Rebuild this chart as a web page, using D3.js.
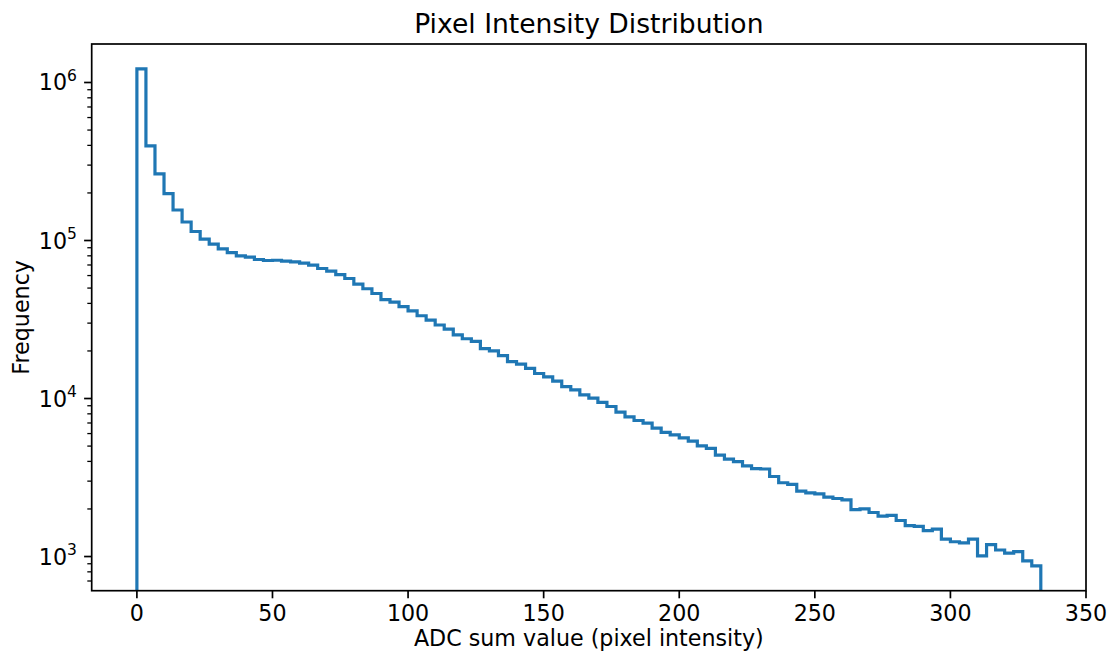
<!DOCTYPE html>
<html>
<head>
<meta charset="utf-8">
<script src="https://cdn.jsdelivr.net/npm/d3@7"></script>
<style>
  body { margin: 0; background: #fff; }
  svg text { font-family: "DejaVu Sans", sans-serif; fill: #000; }
</style>
</head>
<body>
<div id="chart"></div>
<script>
// histogram of ADC sum values, 100 bins from 0 to 333.33
const binStart = 0;
const binWidth = 10 / 3;
const counts = [
  1220000, 397000, 264000, 198000, 156000, 131000, 114000, 102000, 94900, 88500,
  83900, 80000, 78500, 75800, 74700, 75000, 74100, 73300, 71900, 69800,
  66500, 64000, 60900, 57500, 53000, 49500, 46200, 42300, 40800, 38200,
  35900, 33400, 31300, 29200, 27500, 25300, 23900, 23000, 20700, 20000,
  18700, 17100, 16500, 15500, 14400, 13700, 12900, 11900, 11350, 10550,
  10060, 9440, 8900, 8200, 7660, 7260, 6980, 6500, 6100, 5890,
  5640, 5370, 5020, 4830, 4380, 4130, 3990, 3750, 3600, 3580,
  3210, 2930, 2860, 2590, 2530, 2490, 2380, 2330, 2280, 1980,
  2000, 1900, 1800, 1820, 1690, 1570, 1550, 1460, 1490, 1290,
  1240, 1220, 1290, 1010, 1190, 1100, 1050, 1075, 940, 873
];
const xTicks = [0, 50, 100, 150, 200, 250, 300, 350];
const yTicks = [3, 4, 5, 6]; // exponents of 10

const W = 1111, H = 653;
const margin = {top: 44, right: 25, bottom: 62.3, left: 91.7};
const iw = W - margin.left - margin.right;
const ih = H - margin.top - margin.bottom;
const fs = 22.2, titleFs = 26.6;

const svg = d3.select("#chart").append("svg")
  .attr("width", W).attr("height", H);

const g = svg.append("g")
  .attr("transform", `translate(${margin.left},${margin.top})`);

// bin edges
const edges = d3.range(counts.length + 1).map(i => binStart + i * binWidth);
const xMin = edges[0], xMax = edges[edges.length - 1];
const xPad = (xMax - xMin) * 0.05;

const x = d3.scaleLinear()
  .domain([xMin - xPad, xMax + xPad])
  .range([0, iw]);

// log axis with 5% margin in log space, like matplotlib
const lmin = Math.log10(d3.min(counts)), lmax = Math.log10(d3.max(counts));
const lpad = (lmax - lmin) * 0.05;
const y = d3.scaleLog()
  .domain([Math.pow(10, lmin - lpad), Math.pow(10, lmax + lpad)])
  .range([ih, 0]);

svg.append("defs").append("clipPath").attr("id", "clip")
  .append("rect").attr("width", iw).attr("height", ih);

// step outline
const pts = [[x(edges[0]), ih + 10]];
counts.forEach((c, i) => {
  pts.push([x(edges[i]), y(c)]);
  pts.push([x(edges[i + 1]), y(c)]);
});
pts.push([x(edges[edges.length - 1]), ih + 10]);

g.append("path")
  .attr("clip-path", "url(#clip)")
  .attr("d", d3.line()(pts))
  .attr("fill", "none")
  .attr("stroke", "#1f77b4")
  .attr("stroke-width", 3.2)
  .attr("stroke-linejoin", "miter");

// x axis
const xAxis = g.append("g").attr("transform", `translate(0,${ih})`);
xTicks.forEach(t => {
  xAxis.append("line")
    .attr("x1", x(t)).attr("x2", x(t))
    .attr("y1", 0).attr("y2", 7.6)
    .attr("stroke", "#000").attr("stroke-width", 1.7);
  xAxis.append("text")
    .attr("x", x(t)).attr("y", 30.5)
    .attr("text-anchor", "middle")
    .attr("font-size", fs)
    .text(t);
});

// y axis: major + minor ticks
const yAxis = g.append("g");
const [d0, d1] = y.domain();
for (let e = Math.floor(Math.log10(d0)); e <= Math.ceil(Math.log10(d1)); e++) {
  for (let m = 1; m <= 9; m++) {
    const v = m * Math.pow(10, e);
    if (v < d0 || v > d1) continue;
    const major = m === 1;
    yAxis.append("line")
      .attr("x1", 0).attr("x2", major ? -7.6 : -4.4)
      .attr("y1", y(v)).attr("y2", y(v))
      .attr("stroke", "#000").attr("stroke-width", major ? 1.7 : 1.3);
  }
}
yTicks.forEach(e => {
  const t = yAxis.append("text")
    .attr("x", -14.8).attr("y", y(Math.pow(10, e)) + 8)
    .attr("text-anchor", "end")
    .attr("font-size", fs);
  t.append("tspan").text("10");
  t.append("tspan").attr("font-size", 15.5).attr("dy", -9.5).text(e);
});

// frame
g.append("rect")
  .attr("width", iw).attr("height", ih)
  .attr("fill", "none").attr("stroke", "#000").attr("stroke-width", 1.7);

// labels
svg.append("text")
  .attr("x", margin.left + iw / 2).attr("y", 646)
  .attr("text-anchor", "middle").attr("font-size", fs)
  .text("ADC sum value (pixel intensity)");

svg.append("text")
  .attr("transform", `translate(29,${margin.top + ih / 2}) rotate(-90)`)
  .attr("text-anchor", "middle").attr("font-size", fs)
  .text("Frequency");

svg.append("text")
  .attr("x", margin.left + iw / 2).attr("y", 33)
  .attr("text-anchor", "middle").attr("font-size", titleFs)
  .text("Pixel Intensity Distribution");
</script>
</body>
</html>
